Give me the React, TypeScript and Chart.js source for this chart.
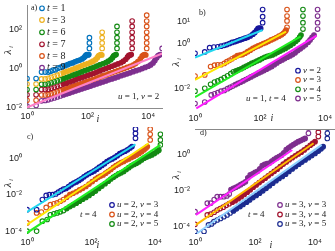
import React, { useEffect, useRef } from 'react';
import { Chart, registerables } from 'chart.js';
Chart.register(...registerables);

// All point values are [log10(i), log10(lambda_i)].
type P = number[][];

// ---------- panel a) u = 1, v = 2 ----------
const aT1: P = [[0,-0.53],[0.3,-0.53],[0.48,-0.2],[0.6,-0.2],[0.7,-0.2],[0.78,-0.16],[0.86,-0.1],[0.94,-0.08],[1.02,0.0],[1.1,0.04],[1.18,0.1],[1.26,0.13],[1.34,0.18],[1.42,0.24],[1.5,0.27],[1.58,0.33],[1.66,0.38],[1.74,0.42],[1.82,0.48],[1.88,0.55],[1.92,0.62],[1.95,0.68],[1.98,0.7],[2.01,0.68],[2.04,0.7],[2.06,1.02],[2.06,1.3],[2.06,1.57]];
const aT3: P = [[0,-0.82],[0.3,-0.82],[0.48,-0.55],[0.6,-0.55],[0.7,-0.52],[0.8,-0.47],[0.9,-0.42],[1.0,-0.36],[1.1,-0.3],[1.2,-0.24],[1.3,-0.18],[1.4,-0.12],[1.5,-0.06],[1.6,0.0],[1.7,0.06],[1.8,0.12],[1.9,0.18],[2.0,0.24],[2.1,0.3],[2.18,0.36],[2.26,0.44],[2.32,0.54],[2.36,0.64],[2.4,0.68],[2.44,0.7],[2.47,0.68],[2.48,1.02],[2.48,1.3],[2.48,1.57],[2.48,1.85]];
const aT6: P = [[0,-1.1],[0.3,-1.1],[0.48,-0.83],[0.6,-0.83],[0.7,-0.8],[0.8,-0.75],[0.9,-0.7],[1.0,-0.65],[1.1,-0.6],[1.2,-0.54],[1.3,-0.48],[1.4,-0.42],[1.5,-0.36],[1.6,-0.31],[1.7,-0.25],[1.8,-0.19],[1.9,-0.13],[2.0,-0.07],[2.1,-0.01],[2.2,0.05],[2.3,0.11],[2.4,0.17],[2.5,0.23],[2.6,0.29],[2.68,0.36],[2.76,0.44],[2.82,0.54],[2.86,0.64],[2.9,0.68],[2.94,0.7],[2.97,1.02],[2.97,1.3],[2.97,1.57],[2.97,1.85],[2.97,2.15]];
const aT7: P = [[0,-1.37],[0.3,-1.37],[0.48,-1.1],[0.6,-1.1],[0.7,-1.08],[0.8,-1.03],[0.9,-0.98],[1.0,-0.93],[1.1,-0.88],[1.2,-0.82],[1.3,-0.77],[1.4,-0.71],[1.5,-0.66],[1.6,-0.6],[1.7,-0.54],[1.8,-0.49],[1.9,-0.43],[2.0,-0.37],[2.1,-0.32],[2.2,-0.26],[2.3,-0.2],[2.4,-0.14],[2.5,-0.08],[2.6,-0.02],[2.7,0.04],[2.8,0.1],[2.9,0.16],[3.0,0.22],[3.1,0.28],[3.18,0.36],[3.26,0.46],[3.32,0.58],[3.36,0.66],[3.4,0.68],[3.44,0.7],[3.47,1.02],[3.47,1.3],[3.47,1.57],[3.47,1.85],[3.47,2.15],[3.47,2.43]];
const aT8: P = [[0,-1.65],[0.3,-1.65],[0.48,-1.38],[0.6,-1.38],[0.7,-1.35],[0.8,-1.31],[0.9,-1.27],[1.0,-1.22],[1.1,-1.17],[1.2,-1.12],[1.3,-1.06],[1.4,-1.01],[1.5,-0.95],[1.6,-0.9],[1.7,-0.84],[1.8,-0.79],[1.9,-0.73],[2.0,-0.68],[2.1,-0.62],[2.2,-0.57],[2.3,-0.51],[2.4,-0.46],[2.5,-0.4],[2.6,-0.35],[2.7,-0.29],[2.8,-0.24],[2.9,-0.18],[3.0,-0.13],[3.1,-0.07],[3.2,-0.02],[3.3,0.04],[3.4,0.1],[3.5,0.16],[3.58,0.24],[3.66,0.34],[3.74,0.48],[3.8,0.62],[3.84,0.68],[3.88,0.7],[3.92,0.68],[3.95,1.02],[3.95,1.3],[3.95,1.57],[3.95,1.85],[3.95,2.15],[3.95,2.43],[3.95,2.73]];
const aT9: P = [[0,-1.95],[0.3,-1.92],[0.48,-1.68],[0.6,-1.66],[0.7,-1.63],[0.8,-1.58],[0.9,-1.53],[1.0,-1.48],[1.1,-1.43],[1.2,-1.38],[1.3,-1.33],[1.4,-1.28],[1.5,-1.22],[1.6,-1.17],[1.7,-1.12],[1.8,-1.07],[1.9,-1.02],[2.0,-0.97],[2.1,-0.92],[2.2,-0.86],[2.3,-0.81],[2.4,-0.76],[2.5,-0.71],[2.6,-0.66],[2.7,-0.6],[2.8,-0.55],[2.9,-0.5],[3.0,-0.45],[3.1,-0.39],[3.2,-0.34],[3.3,-0.29],[3.4,-0.24],[3.5,-0.18],[3.6,-0.13],[3.7,-0.08],[3.8,-0.02],[3.9,0.04],[4.0,0.1],[4.08,0.17],[4.16,0.27],[4.22,0.4],[4.28,0.54],[4.32,0.64],[4.36,0.68],[4.4,0.7],[4.46,1.02],[4.46,1.3],[4.46,1.57],[4.46,1.85],[4.46,2.15],[4.46,2.43],[4.46,2.73],[4.46,3.02]];
const aFit: P = [[0,-2.02],[4.49,0.77]];

// ---------- panel b) u = 1, t = 4 ----------
const bV2: P = [[0,-0.42],[0.3,-0.36],[0.45,-0.17],[0.58,-0.14],[0.7,-0.13],[0.8,-0.1],[0.9,-0.06],[0.98,-0.03],[1.06,0.02],[1.14,0.07],[1.22,0.1],[1.3,0.14],[1.38,0.18],[1.46,0.22],[1.54,0.26],[1.62,0.3],[1.7,0.36],[1.78,0.44],[1.84,0.52],[1.9,0.62],[1.94,0.7],[1.98,0.72],[2.02,0.7],[2.08,0.96],[2.08,1.23],[2.08,1.55]];
const bV3: P = [[0,-1.45],[0.3,-1.4],[0.48,-1.02],[0.6,-0.96],[0.7,-0.94],[0.8,-0.94],[0.9,-0.88],[0.98,-0.8],[1.06,-0.74],[1.14,-0.67],[1.22,-0.6],[1.3,-0.53],[1.38,-0.5],[1.46,-0.48],[1.54,-0.42],[1.62,-0.35],[1.7,-0.28],[1.78,-0.2],[1.86,-0.14],[1.94,-0.09],[2.02,-0.04],[2.1,0.02],[2.18,0.06],[2.26,0.12],[2.34,0.18],[2.42,0.23],[2.5,0.29],[2.58,0.35],[2.66,0.41],[2.72,0.48],[2.77,0.56],[2.8,0.62],[2.83,0.75],[2.83,1.04],[2.83,1.26],[2.83,1.55]];
const bV4: P = [[0,-2.13],[0.3,-2.0],[0.48,-1.82],[0.6,-1.72],[0.7,-1.67],[0.8,-1.6],[0.9,-1.52],[1.0,-1.44],[1.1,-1.34],[1.18,-1.26],[1.26,-1.22],[1.34,-1.17],[1.42,-1.12],[1.5,-1.06],[1.58,-1.0],[1.66,-0.94],[1.74,-0.88],[1.82,-0.83],[1.9,-0.77],[1.98,-0.72],[2.06,-0.66],[2.14,-0.6],[2.22,-0.56],[2.3,-0.53],[2.38,-0.5],[2.46,-0.44],[2.54,-0.38],[2.62,-0.32],[2.7,-0.26],[2.78,-0.2],[2.86,-0.13],[2.94,-0.06],[3.02,0.02],[3.1,0.12],[3.16,0.2],[3.22,0.31],[3.26,0.4],[3.32,0.67],[3.32,0.96],[3.32,1.26],[3.32,1.55]];
const bV5: P = [[0,-2.69],[0.3,-2.62],[0.5,-2.3],[0.6,-2.25],[0.7,-2.2],[0.8,-2.13],[0.9,-2.1],[1.0,-2.02],[1.08,-1.96],[1.16,-1.9],[1.24,-1.84],[1.32,-1.78],[1.4,-1.73],[1.48,-1.67],[1.56,-1.61],[1.64,-1.55],[1.72,-1.49],[1.8,-1.43],[1.88,-1.37],[1.96,-1.31],[2.04,-1.26],[2.12,-1.2],[2.2,-1.14],[2.28,-1.08],[2.36,-1.02],[2.44,-0.94],[2.52,-0.86],[2.6,-0.78],[2.68,-0.72],[2.76,-0.66],[2.84,-0.6],[2.92,-0.54],[3.0,-0.48],[3.08,-0.4],[3.16,-0.3],[3.24,-0.22],[3.32,-0.13],[3.4,-0.04],[3.48,0.08],[3.54,0.18],[3.6,0.3],[3.66,0.4],[3.77,0.67],[3.77,0.96],[3.77,1.26],[3.77,1.55]];
const bFit2: P = [[0,-0.61],[2.08,0.63]];
const bFit3: P = [[0,-1.62],[2.8,0.56]];
const bFit4: P = [[0,-2.4],[3.25,0.34]];
const bFit5: P = [[0.04,-2.91],[3.74,0.38]];

// ---------- panel c) t = 4, u = 2 ----------
const cV3: P = [[0,-2.82],[0.3,-2.82],[0.48,-2.27],[0.6,-2.04],[0.7,-2.0],[0.8,-2.0],[0.9,-1.96],[0.98,-1.86],[1.06,-1.78],[1.14,-1.7],[1.22,-1.66],[1.3,-1.56],[1.38,-1.45],[1.46,-1.36],[1.54,-1.3],[1.62,-1.22],[1.7,-1.13],[1.78,-1.02],[1.86,-0.92],[1.94,-0.84],[2.02,-0.77],[2.1,-0.7],[2.18,-0.6],[2.26,-0.49],[2.34,-0.4],[2.42,-0.3],[2.5,-0.18],[2.58,-0.1],[2.66,-0.04],[2.74,0.04],[2.82,0.14],[2.9,0.25],[2.98,0.32],[3.06,0.38],[3.14,0.46],[3.22,0.56],[3.28,0.64],[3.39,1.09],[3.39,1.36],[3.39,1.6]];
const cV4: P = [[0,-3.55],[0.3,-3.0],[0.45,-2.95],[0.6,-2.7],[0.73,-2.55],[0.84,-2.5],[0.94,-2.45],[1.04,-2.36],[1.14,-2.27],[1.24,-2.14],[1.34,-2.0],[1.44,-1.92],[1.54,-1.84],[1.64,-1.74],[1.74,-1.65],[1.84,-1.55],[1.94,-1.42],[2.04,-1.28],[2.14,-1.15],[2.22,-1.05],[2.3,-0.98],[2.38,-0.92],[2.46,-0.82],[2.54,-0.72],[2.62,-0.62],[2.7,-0.5],[2.78,-0.4],[2.86,-0.32],[2.94,-0.24],[3.02,-0.18],[3.1,-0.1],[3.18,-0.04],[3.26,0.04],[3.34,0.1],[3.42,0.18],[3.5,0.26],[3.58,0.36],[3.66,0.46],[3.72,0.56],[3.76,0.64],[3.85,1.0],[3.85,1.31],[3.85,1.6]];
const cV5: P = [[0,-4.0],[0.3,-4.0],[0.48,-3.45],[0.63,-3.36],[0.73,-3.1],[0.84,-3.05],[0.94,-3.0],[1.04,-2.94],[1.14,-2.87],[1.24,-2.76],[1.34,-2.65],[1.44,-2.56],[1.54,-2.47],[1.64,-2.36],[1.74,-2.25],[1.84,-2.15],[1.94,-2.04],[2.04,-1.92],[2.14,-1.8],[2.24,-1.66],[2.34,-1.53],[2.44,-1.4],[2.54,-1.26],[2.62,-1.14],[2.7,-1.04],[2.78,-0.95],[2.86,-0.86],[2.94,-0.8],[3.02,-0.73],[3.1,-0.62],[3.18,-0.52],[3.26,-0.42],[3.34,-0.34],[3.42,-0.28],[3.5,-0.2],[3.58,-0.1],[3.66,0.0],[3.74,0.06],[3.82,0.12],[3.9,0.18],[3.98,0.26],[4.06,0.36],[4.12,0.44],[4.17,0.73],[4.17,1.0],[4.17,1.31]];
const cFit3: P = [[0,-2.95],[3.39,0.76]];
const cFit4: P = [[0,-3.64],[3.8,0.82]];
const cFit5: P = [[0,-4.09],[4.17,0.73]];

// ---------- panel d) t = 4, u = 3 ----------
const dV3: P = [[0,-3.17],[0.41,-2.7],[0.52,-2.7],[0.64,-2.5],[0.74,-2.34],[0.85,-2.34],[0.96,-2.34],[1.06,-2.3],[1.14,-2.2],[1.2,-1.95],[1.28,-1.88],[1.36,-1.82],[1.44,-1.75],[1.52,-1.68],[1.6,-1.6],[1.68,-1.52],[1.76,-1.3],[1.84,-1.14],[1.92,-1.08],[2.0,-1.0],[2.08,-0.94],[2.16,-0.8],[2.24,-0.62],[2.32,-0.56],[2.4,-0.52],[2.48,-0.48],[2.56,-0.38],[2.64,-0.28],[2.72,-0.2],[2.8,-0.12],[2.88,-0.05],[2.96,0.08],[3.04,0.26],[3.12,0.36],[3.2,0.46],[3.28,0.54],[3.36,0.62],[3.44,0.7],[3.52,0.76],[3.6,0.82],[3.67,0.88],[3.78,1.16],[3.78,1.44]];
const dV4: P = [[0,-3.87],[0.41,-3.35],[0.52,-3.31],[0.64,-3.2],[0.74,-3.08],[0.84,-3.0],[0.94,-2.92],[1.04,-2.82],[1.14,-2.73],[1.24,-2.65],[1.34,-2.56],[1.44,-2.45],[1.54,-2.34],[1.64,-2.22],[1.74,-2.09],[1.84,-1.96],[1.94,-1.82],[2.04,-1.69],[2.14,-1.56],[2.24,-1.44],[2.34,-1.32],[2.44,-1.19],[2.54,-1.06],[2.64,-0.94],[2.74,-0.82],[2.84,-0.68],[2.94,-0.54],[3.04,-0.42],[3.14,-0.3],[3.24,-0.19],[3.34,-0.08],[3.44,0.02],[3.54,0.12],[3.64,0.24],[3.74,0.37],[3.84,0.5],[3.92,0.6],[4.0,0.7],[4.11,0.98],[4.11,1.22],[4.11,1.44]];
const dV5: P = [[0,-4.27],[0.3,-4.27],[0.45,-3.9],[0.55,-3.85],[0.63,-3.72],[0.74,-3.63],[0.85,-3.54],[0.96,-3.45],[1.07,-3.35],[1.17,-3.24],[1.28,-3.13],[1.38,-3.01],[1.5,-2.89],[1.6,-2.77],[1.72,-2.65],[1.82,-2.52],[1.93,-2.39],[2.04,-2.27],[2.15,-2.15],[2.26,-2.02],[2.37,-1.88],[2.48,-1.74],[2.59,-1.6],[2.7,-1.46],[2.8,-1.33],[2.91,-1.22],[3.02,-1.1],[3.13,-0.95],[3.24,-0.81],[3.35,-0.68],[3.46,-0.55],[3.56,-0.43],[3.67,-0.31],[3.78,-0.19],[3.89,-0.07],[4.0,0.05],[4.11,0.18],[4.2,0.3],[4.27,0.42],[4.41,0.88],[4.41,1.16],[4.41,1.44]];
const dFit3: P = [[0.03,-3.35],[3.24,0.24]];
const dFit4: P = [[0.03,-3.9],[3.95,0.61]];
const dFit5: P = [[0.07,-4.36],[4.22,0.52]];

// labelled tick exponents
const xTickExp = [0, 2, 4];
const aYTickExp = [-2, 0, 2];
const bYTickExp = [-2, 0, 1];
const cYTickExp = [-4, -2, 0];
const dYTickExp = [-4, -2, 0];

type Part = [string, boolean];
const eq = (a: string, b: string): Part[] => [[a, true], [' = ' + b, false]];
const eq2 = (a: string, b: string, c: string, d: string): Part[] => [[a, true], [' = ' + b + ', ', false], [c, true], [' = ' + d, false]];

const BLUE = '#0072BD', YEL = '#EDB120', GRN = '#138a13', DRED = '#A2142F', ORA = '#D95319', PUR = '#7E2F8E';
const NAVY = '#16169c';
const NAVY2 = '#1c2c90';

interface Panel {
  area: [number, number, number, number];
  xr: [number, number];
  yr: [number, number];
  yTicks: number[];
  series: { pts: P; color: string }[];
  fits: { pts: P; color: string }[];
  letter: [string, number, number];
  legend: { x: number; ys: number[]; items: Part[][]; colors: string[]; size: number };
  note: [Part[], number, number];
  iLabel: [number, number];
  lamLabel: [number, number];
  axisLines: boolean;
  topLine: boolean;
}

const PANELS: Panel[] = [
  {
    area: [27, 2, 162, 108], xr: [0, 4.455], yr: [-2.05, 3.25], yTicks: aYTickExp,
    series: [
      { pts: aT1, color: BLUE }, { pts: aT3, color: YEL }, { pts: aT6, color: GRN },
      { pts: aT7, color: DRED }, { pts: aT8, color: ORA }, { pts: aT9, color: PUR },
    ],
    fits: [{ pts: aFit, color: '#ff80c8' }],
    letter: ['a)', 31, 8],
    legend: { x: 42, ys: [8.3, 20, 32.3, 44.3, 56, 67.7], items: [eq('t', '1'), eq('t', '3'), eq('t', '6'), eq('t', '7'), eq('t', '8'), eq('t', '9')], colors: [BLUE, YEL, GRN, DRED, ORA, PUR], size: 10 },
    note: [eq2('u', '1', 'v', '2'), 118, 97],
    iLabel: [98, 119], lamLabel: [8, 50], axisLines: true, topLine: false,
  },
  {
    area: [195, 2, 329, 110], xr: [0, 4.0], yr: [-2.982, 1.754], yTicks: bYTickExp,
    series: [
      { pts: bV2, color: NAVY }, { pts: bV3, color: ORA }, { pts: bV4, color: GRN }, { pts: bV5, color: PUR },
    ],
    fits: [
      { pts: bFit2, color: '#22d8f0' }, { pts: bFit3, color: '#ffe800' },
      { pts: bFit4, color: '#22ee22' }, { pts: bFit5, color: '#ff1cff' },
    ],
    letter: ['b)', 199, 13],
    legend: { x: 298, ys: [70.7, 80, 89.3, 98.5], items: [eq('v', '2'), eq('v', '3'), eq('v', '4'), eq('v', '5')], colors: [NAVY, ORA, GRN, PUR], size: 9 },
    note: [eq2('u', '1', 't', '4'), 246, 98.5],
    iLabel: [272, 118], lamLabel: [176, 62], axisLines: false, topLine: false,
  },
  {
    area: [27, 127, 163, 234], xr: [0, 4.25], yr: [-4.137, 1.71], yTicks: cYTickExp,
    series: [
      { pts: cV3, color: NAVY }, { pts: cV4, color: ORA }, { pts: cV5, color: GRN },
    ],
    fits: [
      { pts: cFit3, color: '#22d8f0' }, { pts: cFit4, color: '#ffe800' }, { pts: cFit5, color: '#22ee22' },
    ],
    letter: ['c)', 27, 137],
    legend: { x: 112, ys: [205, 214.5, 224], items: [eq2('u', '2', 'v', '3'), eq2('u', '2', 'v', '4'), eq2('u', '2', 'v', '5')], colors: [NAVY, ORA, GRN], size: 9 },
    note: [eq('t', '4'), 80, 215],
    iLabel: [98, 245], lamLabel: [8, 183], axisLines: false, topLine: false,
  },
  {
    area: [195, 129, 333, 234], xr: [0, 4.495], yr: [-4.403, 1.398], yTicks: dYTickExp,
    series: [
      { pts: dV3, color: PUR }, { pts: dV4, color: DRED }, { pts: dV5, color: NAVY2 },
    ],
    fits: [
      { pts: dFit3, color: '#ff22ff' }, { pts: dFit4, color: '#ffbb00' }, { pts: dFit5, color: '#8fd0ff' },
    ],
    letter: ['d)', 200, 133],
    legend: { x: 280, ys: [205, 214.5, 224], items: [eq2('u', '3', 'v', '3'), eq2('u', '3', 'v', '4'), eq2('u', '3', 'v', '5')], colors: [PUR, DRED, NAVY2], size: 9 },
    note: [eq('t', '4'), 248, 215],
    iLabel: [271, 245], lamLabel: [176, 175], axisLines: false, topLine: true,
  },
];

const SERIF = '"Liberation Serif", "DejaVu Serif", serif';
const SANS = '"Liberation Sans", Arial, sans-serif';
const SUP: Record<string, string> = { '0': '⁰', '1': '¹', '2': '²', '3': '³', '4': '⁴', '5': '⁵', '-': '⁻' };
const powLabel = (e: number) => '10' + String(e).split('').map((c) => SUP[c] || c).join('');
// label only the decades listed for the axis; other generated log ticks stay unlabelled
const tickLabeller = (exps: number[]) => (v: any) => {
  const lg = Math.log10(Number(v));
  const e = Math.round(lg);
  return Math.abs(lg - e) < 1e-6 && exps.includes(e) ? powLabel(e) : '';
};
const toXY = (pts: P) => pts.map(([x, y]) => ({ x: Math.pow(10, x), y: Math.pow(10, y) }));

const Y_AXIS_W = 27;
const X_AXIS_H = 16;
// points past this log10(i) overlap so densely in the original that they read as a solid band
const DENSE_FROM = 1.2;

function drawParts(ctx: CanvasRenderingContext2D, parts: Part[], x: number, y: number, size: number) {
  let cx = x;
  for (const [s, it] of parts) {
    ctx.font = `${it ? 'italic ' : ''}${size}px ${SERIF}`;
    ctx.fillText(s, cx, y);
    cx += ctx.measureText(s).width;
  }
}

function makeConfig(p: Panel): any {
  const [L, T, R, B] = p.area;
  const datasets: any[] = [];
  p.series.forEach((s) => {
    const lastX = Math.max(...s.pts.map((q) => q[0]));
    const isDense = (c: any) => {
      const r = c.raw;
      if (!r) return false;
      const lx = Math.log10(r.x);
      return lx >= DENSE_FROM && lx < lastX - 1e-6;
    };
    datasets.push({
      data: toXY(s.pts), showLine: false, pointRadius: 2.3,
      pointBorderWidth: 1.1,
      pointBackgroundColor: (c: any) => (isDense(c) ? s.color : 'rgba(0,0,0,0)'),
      pointBorderColor: s.color, borderColor: s.color, order: 1,
    });
  });
  p.fits.forEach((f) => {
    datasets.push({
      data: toXY(f.pts), showLine: true, pointRadius: 0, borderWidth: 2, borderColor: f.color, order: 0,
    });
  });
  const textPlugin = {
    id: 'texts',
    afterDraw(chart: any) {
      const ctx: CanvasRenderingContext2D = chart.ctx;
      ctx.save();
      ctx.fillStyle = '#222';
      ctx.textBaseline = 'middle';
      // y tick labels, placed with the chart's own y scale
      ctx.textAlign = 'right';
      ctx.font = `9px ${SANS}`;
      const ys = chart.scales.y;
      p.yTicks.forEach((e) => {
        ctx.fillText(powLabel(e), ys.right - 5, ys.getPixelForValue(Math.pow(10, e)));
      });
      ctx.textAlign = 'left';
      ctx.font = `8px ${SERIF}`;
      ctx.fillText(p.letter[0], p.letter[1], p.letter[2]);
      const lg = p.legend;
      lg.ys.forEach((y, k) => {
        ctx.beginPath();
        ctx.strokeStyle = lg.colors[k];
        ctx.lineWidth = 1.2;
        ctx.arc(lg.x, y, 2.3, 0, Math.PI * 2);
        ctx.stroke();
        ctx.fillStyle = '#222';
        drawParts(ctx, lg.items[k], lg.x + 5, y, lg.size);
      });
      drawParts(ctx, p.note[0], p.note[1], p.note[2], 9);
      ctx.textAlign = 'center';
      ctx.font = `italic 10px ${SERIF}`;
      ctx.fillText('i', p.iLabel[0], p.iLabel[1]);
      ctx.translate(p.lamLabel[0], p.lamLabel[1]);
      ctx.rotate(-Math.PI / 2);
      ctx.font = `italic 11px ${SERIF}`;
      ctx.fillText('λ', -2, 0);
      ctx.font = `italic 7px ${SERIF}`;
      ctx.fillText('i', 3, 3);
      ctx.setTransform(1, 0, 0, 1, 0, 0);
      if (p.topLine) {
        ctx.strokeStyle = '#888';
        ctx.lineWidth = 1;
        ctx.beginPath();
        ctx.moveTo(L, T + 0.5);
        ctx.lineTo(335, T + 0.5);
        ctx.stroke();
      }
      ctx.restore();
    },
  };
  const tickFont = { family: SANS, size: 9 };
  return {
    type: 'scatter',
    data: { datasets },
    plugins: [textPlugin],
    options: {
      animation: false,
      responsive: false,
      devicePixelRatio: 1,
      events: [],
      layout: { padding: { left: L - Y_AXIS_W, top: T, right: 335 - R, bottom: 251 - B - X_AXIS_H } },
      plugins: { legend: { display: false }, tooltip: { enabled: false } },
      scales: {
        x: {
          type: 'logarithmic', min: Math.pow(10, p.xr[0]), max: Math.pow(10, p.xr[1]),
          afterFit: (s: any) => { s.height = X_AXIS_H; },
          ticks: { callback: tickLabeller(xTickExp), font: tickFont, color: '#222', padding: 3, autoSkip: false, maxRotation: 0, minRotation: 0, major: { enabled: false } },
          grid: { display: false, drawTicks: false },
          border: { display: p.axisLines, color: '#8c8c8c', width: 1 },
        },
        y: {
          type: 'logarithmic', min: Math.pow(10, p.yr[0]), max: Math.pow(10, p.yr[1]),
          afterFit: (s: any) => { s.width = Y_AXIS_W; },
          ticks: { display: false },
          grid: { display: false, drawTicks: false },
          border: { display: p.axisLines, color: '#8c8c8c', width: 1 },
        },
      },
    },
  };
}

export default function App() {
  const refs = useRef<(HTMLCanvasElement | null)[]>([]);
  useEffect(() => {
    const charts = PANELS.map((p, k) => new Chart(refs.current[k] as HTMLCanvasElement, makeConfig(p)));
    return () => charts.forEach((c) => c.destroy());
  }, []);
  return (
    <div style={{ position: 'fixed', left: 0, top: 0, width: 335, height: 251, background: '#fff', overflow: 'hidden' }}>
      {PANELS.map((_, k) => (
        <canvas
          key={k}
          ref={(el) => { refs.current[k] = el; }}
          width={335}
          height={251}
          style={{ position: 'absolute', left: 0, top: 0, width: 335, height: 251 }}
        />
      ))}
    </div>
  );
}
